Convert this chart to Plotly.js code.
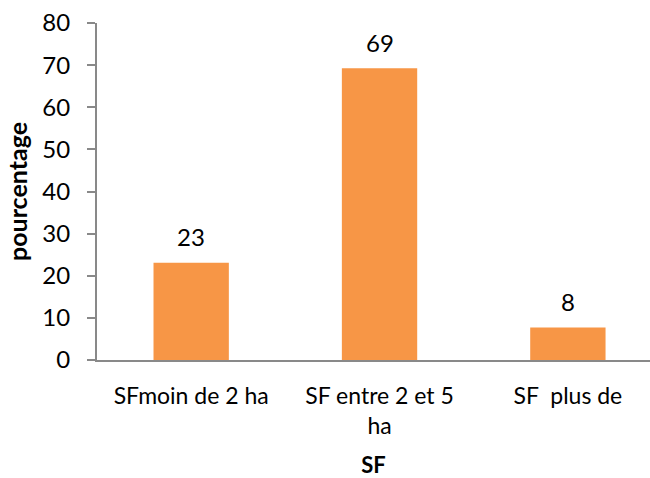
<!DOCTYPE html>
<html>
<head>
<meta charset="utf-8">
<script src="https://cdn.plot.ly/plotly-3.0.1.min.js"></script>
<style>html,body{margin:0;padding:0;overflow:hidden;background:#fff;}</style>
</head>
<body>
<div id="chart" style="width:650px;height:478px;"></div>
<script>
var categories = ["SFmoin de 2 ha", "SF entre 2 et 5<br>ha", "SF\u00a0\u00a0plus de"];
var values = [23.08, 69.23, 7.69];
var valueLabels = ["23", "69", "8"];
var yTicks = [0, 10, 20, 30, 40, 50, 60, 70, 80];

var font = "Lato, 'Open Sans', sans-serif";
var trace = {
  type: "bar",
  x: [0, 1, 2],
  y: values,
  marker: {color: "#F79646", line: {width: 0}},
  hoverinfo: "skip"
};
var annotations = values.map(function(v, i){
  return {x: i, y: v, text: valueLabels[i], showarrow: false, xref: "x", yref: "y",
          yanchor: "middle", yshift: 26, font: {family: font, size: 24, color: "#000"}};
});
var layout = {
  width: 650, height: 478,
  margin: {l: 97, r: 0, t: 23, b: 118, pad: 0},
  paper_bgcolor: "#fff", plot_bgcolor: "#fff",
  showlegend: false,
  bargap: 0.6,
  font: {family: font, size: 23, color: "#000"},
  xaxis: {
    range: [-0.5, 2.436],
    tickmode: "array", tickvals: [0, 1, 2], ticktext: categories,
    showline: true, linecolor: "#898989", linewidth: 2,
    showgrid: false, zeroline: false, ticks: "",
    tickfont: {family: font, size: 23, color: "#000"},
    ticklabelstandoff: 14,
    title: {text: "<b>SF</b>", font: {family: font, size: 22, color: "#000"}, standoff: 22}
  },
  yaxis: {
    range: [0, 80],
    tickmode: "array", tickvals: yTicks, ticktext: yTicks.map(String),
    showline: true, linecolor: "#898989", linewidth: 2,
    showgrid: false, zeroline: false,
    ticks: "outside", ticklen: 8, tickwidth: 2, tickcolor: "#898989",
    tickfont: {family: font, size: 24, color: "#000"},
    ticklabelstandoff: 12,
    title: {text: "<b>pourcentage</b>", font: {family: font, size: 25, color: "#000"}, standoff: 8}
  },
  annotations: annotations
};
Plotly.newPlot("chart", [trace], layout, {displayModeBar: false, staticPlot: true});
</script>
</body>
</html>
